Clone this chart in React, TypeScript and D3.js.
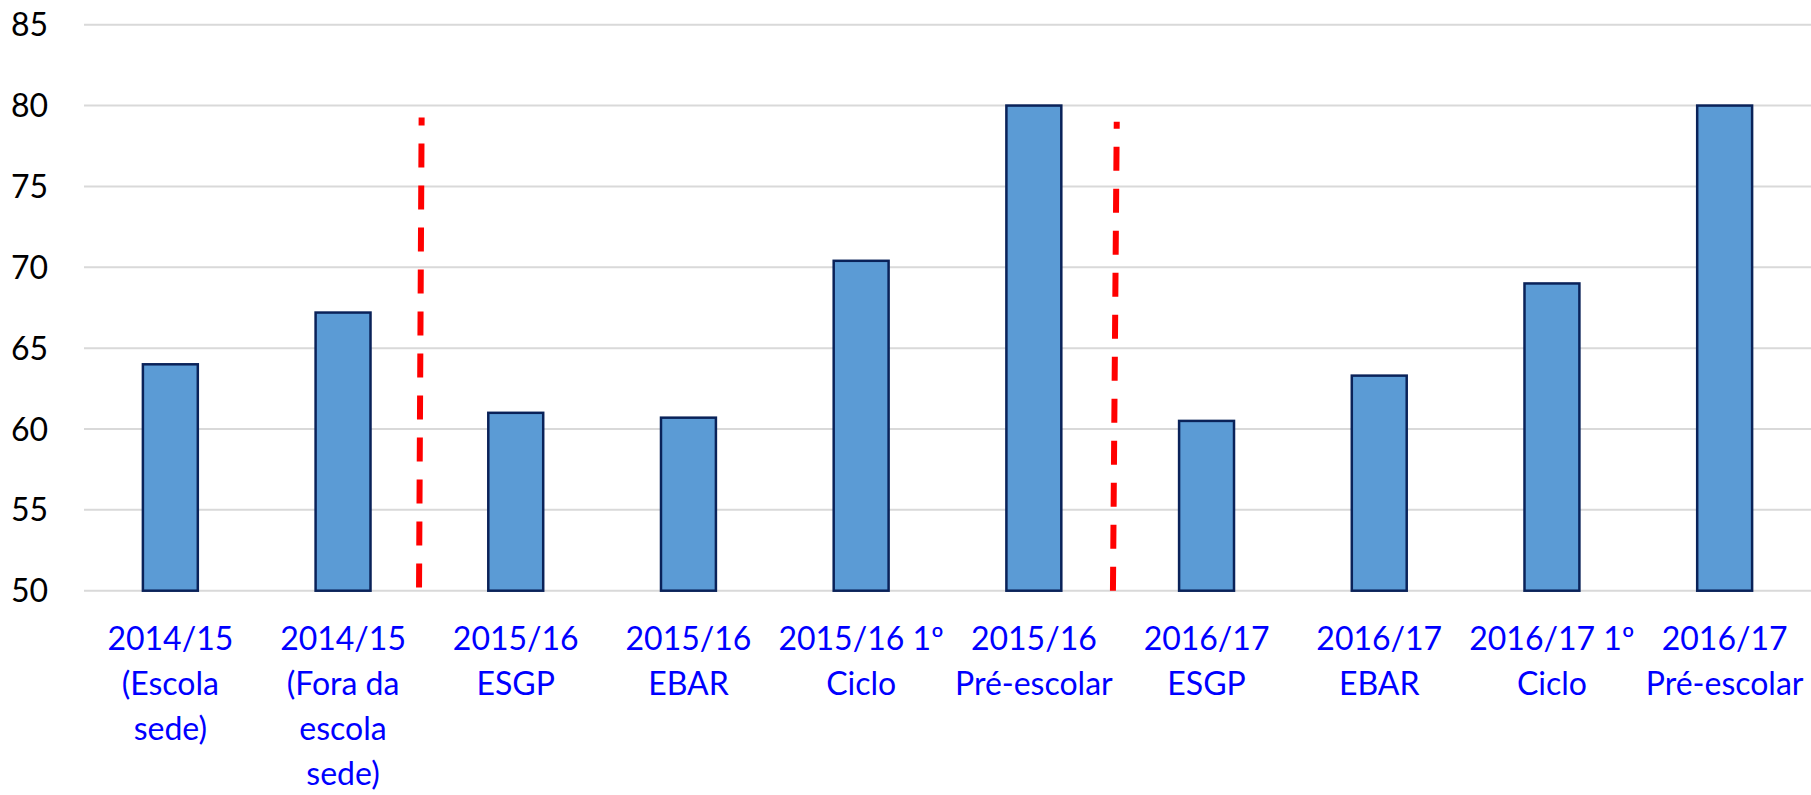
import React from "react";
import * as d3 from "d3";

const categories: string[][] = [
  ["2014/15", "(Escola", "sede)"],
  ["2014/15", "(Fora da", "escola", "sede)"],
  ["2015/16", "ESGP"],
  ["2015/16", "EBAR"],
  ["2015/16 1º", "Ciclo"],
  ["2015/16", "Pré-escolar"],
  ["2016/17", "ESGP"],
  ["2016/17", "EBAR"],
  ["2016/17 1º", "Ciclo"],
  ["2016/17", "Pré-escolar"],
];
const values: number[] = [64.0, 67.2, 61.0, 60.7, 70.4, 80.0, 60.5, 63.3, 69.0, 80.0];
const yTicks: number[] = [50, 55, 60, 65, 70, 75, 80, 85];
// dividers in category-index units (x) and value units (y)
const dividerBottomX: number[] = [1.94, 5.958];
const dividerTopX: number[] = [1.955, 5.98];
const dividerTopY: number[] = [79.26, 79.0];
const dividerBottomY: number[] = [50.2, 50.0];

const W = 1811;
const H = 795;
const left = 84;
const right = 1811;
const top = 24.7;
const bottom = 590.7;

export default function App() {
  const x = d3
    .scaleBand<number>()
    .domain(d3.range(categories.length))
    .range([left, right])
    .paddingInner(0.682)
    .paddingOuter(0.341);
  const xi = d3.scaleLinear().domain([0, categories.length]).range([left, right]);
  const y = d3.scaleLinear().domain([50, 85]).range([bottom, top]);
  const font = "Lato, 'Open Sans', sans-serif";

  return (
    <svg
      width={W}
      height={H}
      style={{ position: "absolute", left: 0, top: 0, background: "#fff" }}
    >
      {yTicks.map((t) => (
        <g key={t}>
          <line x1={left} x2={right} y1={y(t)} y2={y(t)} stroke="#D9D9D9" strokeWidth={2} />
          <text
            x={48}
            y={y(t)}
            dy="0.36em"
            textAnchor="end"
            fontFamily={font}
            fontSize={32}
            fill="#000"
          >
            {t}
          </text>
        </g>
      ))}
      {values.map((v, i) => (
        <rect
          key={i}
          x={x(i)}
          y={y(v)}
          width={x.bandwidth()}
          height={y(50) - y(v)}
          fill="#5B9BD5"
          stroke="#0A2259"
          strokeWidth={2.5}
        />
      ))}
      {dividerBottomX.map((bx, k) => (
        <line
          key={k}
          x1={xi(bx)}
          y1={y(dividerBottomY[k])}
          x2={xi(dividerTopX[k])}
          y2={y(dividerTopY[k])}
          stroke="#FF0000"
          strokeWidth={6}
          strokeDasharray="24 18"
        />
      ))}
      {categories.map((lines, i) => (
        <text
          key={i}
          textAnchor="middle"
          fontFamily={font}
          fontSize={32}
          fill="#0000FF"
        >
          {lines.map((ln, j) => (
            <tspan key={j} x={(x(i) as number) + x.bandwidth() / 2} y={650 + j * 45}>
              {ln}
            </tspan>
          ))}
        </text>
      ))}
    </svg>
  );
}
